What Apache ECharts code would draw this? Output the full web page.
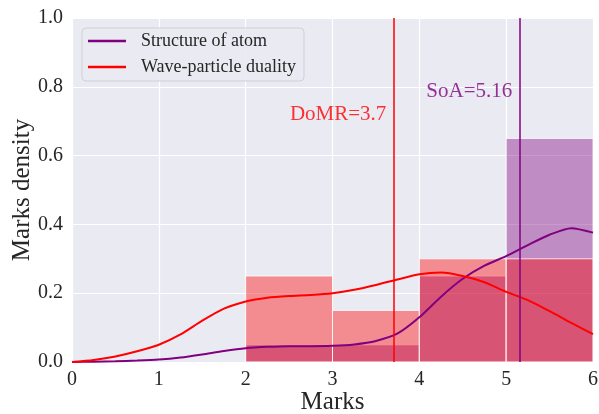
<!DOCTYPE html>
<html>
<head>
<meta charset="utf-8">
<script src="https://cdn.jsdelivr.net/npm/echarts@6/dist/echarts.min.js"></script>
<style>
html,body{margin:0;padding:0;background:#fff;}
#chart{width:599px;height:414px;}
</style>
</head>
<body>
<div id="chart"></div>
<script>
// ---- data ----
const seriesNames = ['Structure of atom', 'Wave-particle duality'];
const binEdges = [2, 3, 4, 5, 6];
const atomHist = [0.05, 0.05, 0.25, 0.65];
const waveHist = [0.25, 0.15, 0.30, 0.30];
const kdeX = [0, 0.25, 0.5, 0.75, 1, 1.25, 1.5, 1.75, 2, 2.25, 2.5, 2.75, 3, 3.25, 3.5, 3.75, 4, 4.25, 4.5, 4.75, 5, 5.25, 5.5, 5.75, 6];
const atomKde = [0.000, 0.001, 0.002, 0.004, 0.007, 0.013, 0.022, 0.032, 0.040, 0.044, 0.046, 0.046, 0.047, 0.051, 0.061, 0.083, 0.130, 0.190, 0.242, 0.280, 0.308, 0.340, 0.370, 0.389, 0.376];
const waveKde = [0.000, 0.006, 0.016, 0.031, 0.050, 0.080, 0.120, 0.155, 0.176, 0.187, 0.192, 0.195, 0.200, 0.210, 0.224, 0.240, 0.255, 0.260, 0.250, 0.232, 0.204, 0.180, 0.148, 0.114, 0.081];
const atomMean = 5.16;
const waveMean = 3.7;
const annotations = [
  {text: 'DoMR=3.7', x: 3.62, y: 0.72},
  {text: 'SoA=5.16', x: 5.07, y: 0.785}
];
const xTicks = [0, 1, 2, 3, 4, 5, 6];
const yTicks = [0.0, 0.2, 0.4, 0.6, 0.8, 1.0];

const FONT = '"Liberation Serif", "Times New Roman", serif';
const PURPLE = '#800080';
const RED = '#ff0000';

function histData(vals) {
  return vals.map((v, i) => [binEdges[i], binEdges[i + 1], v]);
}
function kdeData(ys) {
  return kdeX.map((x, i) => [x, ys[i]]);
}
function renderBar(fill) {
  return function (params, api) {
    const p0 = api.coord([api.value(0), api.value(2)]);
    const p1 = api.coord([api.value(1), 0]);
    return {
      type: 'rect',
      shape: {x: p0[0], y: p0[1], width: p1[0] - p0[0], height: p1[1] - p0[1]},
      style: {fill: fill, stroke: 'rgba(255,255,255,0.8)', lineWidth: 1}
    };
  };
}

const chart = echarts.init(document.getElementById('chart'), null, {renderer: 'canvas'});
chart.setOption({
  animation: false,
  backgroundColor: '#ffffff',
  textStyle: {fontFamily: FONT},
  grid: {left: 72, right: 6, top: 18, bottom: 52, show: true, backgroundColor: '#EAEAF2', borderWidth: 0,
    containLabel: false, outerBoundsMode: 'none'},
  legend: {
    data: seriesNames,
    orient: 'vertical',
    left: 82, top: 28,
    padding: [4, 8, 5, 6],
    itemWidth: 38, itemHeight: 2.5,
    itemGap: 8,
    icon: 'rect',
    backgroundColor: 'rgba(234,234,242,0.9)',
    borderColor: '#cfcfd6', borderWidth: 1, borderRadius: 4,
    textStyle: {fontFamily: FONT, fontSize: 18, color: '#262626', padding: [0, 0, 0, 10]}
  },
  xAxis: {
    type: 'value', min: 0, max: 6, interval: 1,
    name: 'Marks', nameLocation: 'middle', nameGap: 28, nameMoveOverlap: false,
    nameTextStyle: {fontFamily: FONT, fontSize: 25, color: '#262626'},
    axisLine: {show: false}, axisTick: {show: false},
    axisLabel: {fontFamily: FONT, fontSize: 20, color: '#262626', margin: 8,
      formatter: v => xTicks.includes(v) ? String(v) : ''},
    splitLine: {show: true, lineStyle: {color: '#ffffff', width: 1.2}}
  },
  yAxis: {
    type: 'value', min: 0, max: 1, interval: 0.2,
    name: 'Marks density', nameLocation: 'middle', nameGap: 37, nameMoveOverlap: false,
    nameTextStyle: {fontFamily: FONT, fontSize: 25, color: '#262626'},
    axisLine: {show: false}, axisTick: {show: false},
    axisLabel: {fontFamily: FONT, fontSize: 20, color: '#262626', margin: 9,
      formatter: v => v.toFixed(1)},
    splitLine: {show: true, lineStyle: {color: '#ffffff', width: 1.2}}
  },
  series: [
    {
      name: 'atom-hist', type: 'custom', renderItem: renderBar('rgba(128,0,128,0.4)'),
      encode: {x: [0, 1], y: 2}, data: histData(atomHist), z: 1, silent: true
    },
    {
      name: 'wave-hist', type: 'custom', renderItem: renderBar('rgba(255,0,0,0.4)'),
      encode: {x: [0, 1], y: 2}, data: histData(waveHist), z: 2, silent: true
    },
    {
      name: seriesNames[0], type: 'line', smooth: 0.25, showSymbol: false, symbol: 'none',
      data: kdeData(atomKde), z: 3,
      lineStyle: {color: PURPLE, width: 2}, itemStyle: {color: PURPLE},
      markLine: {silent: true, symbol: ['none', 'none'], label: {show: false},
        lineStyle: {color: PURPLE, width: 1.5, type: 'solid'}, data: [{xAxis: atomMean}]}
    },
    {
      name: seriesNames[1], type: 'line', smooth: 0.25, showSymbol: false, symbol: 'none',
      data: kdeData(waveKde), z: 4,
      lineStyle: {color: RED, width: 2}, itemStyle: {color: RED},
      markLine: {silent: true, symbol: ['none', 'none'], label: {show: false},
        lineStyle: {color: RED, width: 1.5, type: 'solid'}, data: [{xAxis: waveMean}]}
    },
    {
      name: 'annot', type: 'scatter', symbolSize: 0, z: 5, silent: true,
      data: annotations.map((a, i) => ({
        value: [a.x, a.y],
        label: {show: true, position: 'left', distance: 0, formatter: a.text,
          fontFamily: FONT, fontSize: 21, color: i === 0 ? RED : PURPLE}
      }))
    }
  ]
});
</script>
</body>
</html>
